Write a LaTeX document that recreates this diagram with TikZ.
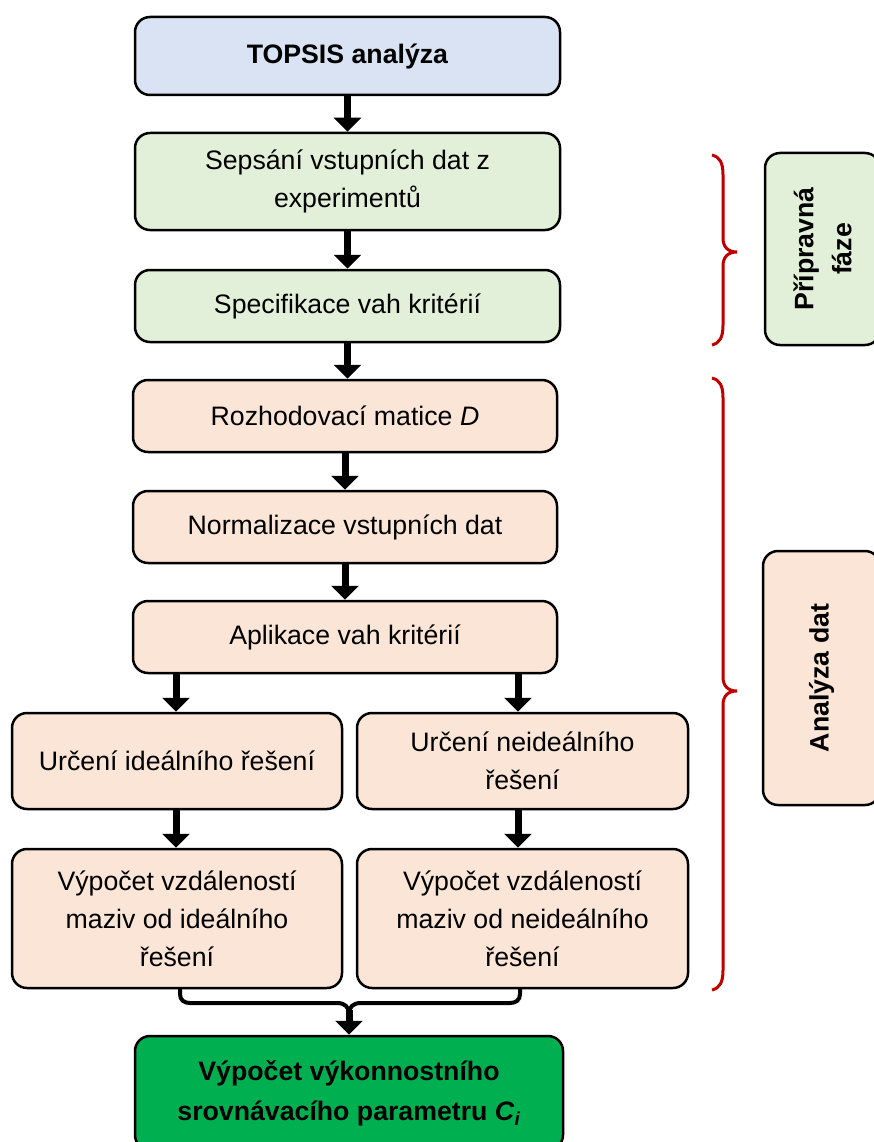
\documentclass[tikz,border=0pt]{standalone}
\usepackage{fontspec}
\setmainfont{Liberation Sans}
\usetikzlibrary{arrows.meta,calc}

\definecolor{topblue}{HTML}{DAE3F3}
\definecolor{prepgreen}{HTML}{E2F0D9}
\definecolor{peach}{HTML}{FBE5D6}
\definecolor{resgreen}{HTML}{00B050}
\definecolor{bracered}{HTML}{C00000}

\tikzset{
  box/.style={draw=black, line width=2.5pt, rounded corners=15pt,
    align=center, inner sep=0pt, font=\fontsize{26.7}{38}\selectfont},
  arr/.style={line width=7pt, -{Triangle[width=27pt,length=14pt]}},
  merge/.style={line width=4pt, line cap=round},
  brace/.style={draw=bracered, line width=3pt},
}

\begin{document}
\begin{tikzpicture}[x=1pt,y=-1pt]
\useasboundingbox (0,0) rectangle (873,1142);

% main column
\node[box, fill=topblue, minimum width=425pt, minimum height=78pt] (top) at (347.5,56)
  {\textbf{TOPSIS analýza}};
\node[box, fill=prepgreen, minimum width=425pt, minimum height=97pt] (sep) at (347.5,181.5)
  {Sepsání vstupních dat z\\experimentů};
\node[box, fill=prepgreen, minimum width=425pt, minimum height=72pt] (spec) at (347.5,306)
  {Specifikace vah kritérií};
\node[box, fill=peach, minimum width=424pt, minimum height=72pt] (roz) at (345,416)
  {Rozhodovací matice \textit{D}};
\node[box, fill=peach, minimum width=424pt, minimum height=72pt] (norm) at (345,527)
  {Normalizace vstupních dat};
\node[box, fill=peach, minimum width=424pt, minimum height=72pt] (apl) at (345,637)
  {Aplikace vah kritérií};

% two branches
\node[box, fill=peach, minimum width=330pt, minimum height=96pt] (ui) at (177,761)
  {Určení ideálního řešení};
\node[box, fill=peach, minimum width=331pt, minimum height=96pt] (un) at (522.5,761)
  {Určení neideálního\\řešení};
\node[box, fill=peach, minimum width=330pt, minimum height=139pt] (vi) at (177,918.5)
  {Výpočet vzdáleností\\maziv od ideálního\\řešení};
\node[box, fill=peach, minimum width=331pt, minimum height=139pt] (vn) at (522.5,918.5)
  {Výpočet vzdáleností\\maziv od neideálního\\řešení};

% result
\node[box, fill=resgreen, minimum width=428pt, minimum height=114pt] (fin) at (349,1093)
  {\textbf{Výpočet výkonnostního}\\[2pt]\textbf{srovnávacího parametru \textit{C}\textsubscript{\textit{i}}}};

% phase labels
\node[box, fill=prepgreen, minimum width=115pt, minimum height=192pt] (prep) at (822.5,249) {};
\node[font=\fontsize{26.7}{38}\selectfont\bfseries, rotate=90, align=center] (preplbl) at (prep.center)
  {Přípravná\\fáze};
\node[box, fill=peach, minimum width=117pt, minimum height=254pt] (anal) at (821.5,678) {};
\node[font=\fontsize{26.7}{38}\selectfont\bfseries, rotate=90] (anallbl) at (anal.center)
  {Analýza dat};

% arrows
\draw[arr] (top.south) -- (sep.north);
\draw[arr] (sep.south) -- (spec.north);
\draw[arr] (spec.south) -- (spec.south |- roz.north);
\draw[arr] (roz.south) -- (norm.north);
\draw[arr] (norm.south) -- (apl.north);
\draw[arr] ([xshift=-1pt]ui.north |- apl.south) -- ([xshift=-1pt]ui.north);
\draw[arr] ([xshift=-4.5pt]un.north |- apl.south) -- ([xshift=-4.5pt]un.north);
\draw[arr] ([xshift=-1pt]ui.south) -- ([xshift=-1pt]vi.north);
\draw[arr] ([xshift=-4.5pt]un.south) -- ([xshift=-4.5pt]vn.north);

% merging bracket
\coordinate (join) at (349,1010);
\draw[merge] ([xshift=3pt]vi.south) -- (180,994)
  .. controls (180,1000) and (184,1003) .. (190,1003) -- (337,1003)
  .. controls (345,1003) and (349,1007) .. (349,1014)
  .. controls (349,1007) and (353,1003) .. (361,1003) -- (510,1003)
  .. controls (516,1003) and (520,1000) .. (520,994) -- ([xshift=-2.5pt]vn.south);
\draw[arr] (join) -- (fin.north);

% phase braces
\draw[brace] (712,155) .. controls (720,157) and (723,163) .. (723,175) -- (723,238)
  .. controls (723,247) and (728,252) .. (737,252)
  .. controls (728,252) and (723,257) .. (723,266) -- (723,325)
  .. controls (723,337) and (720,343) .. (712,345);
\draw[brace] (712,378) .. controls (720,380) and (723,386) .. (723,398) -- (723,677)
  .. controls (723,686) and (728,691) .. (737,691)
  .. controls (728,691) and (723,696) .. (723,705) -- (723,970)
  .. controls (723,982) and (720,988) .. (712,990);
\end{tikzpicture}
\end{document}
